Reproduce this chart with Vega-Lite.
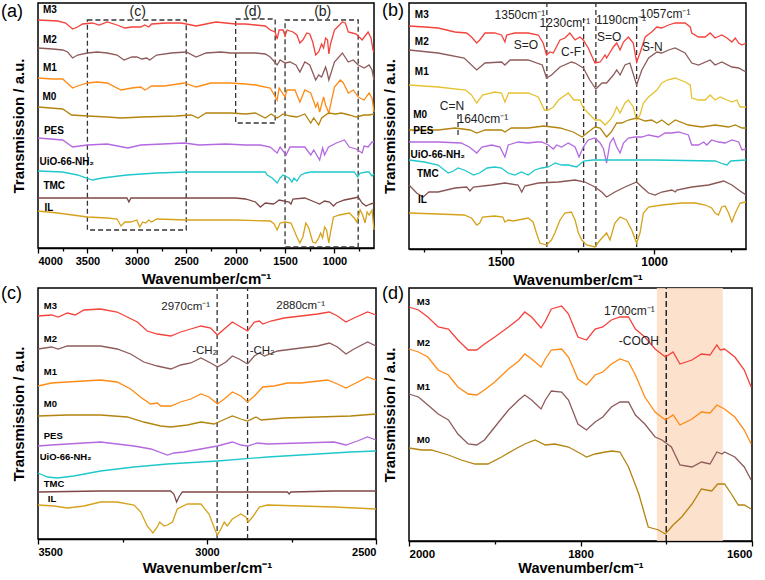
{
"$schema":"https://vega.github.io/schema/vega-lite/v6.json",
"padding":{"left":0,"top":1,"right":5,"bottom":0},
"background":"white",
"config":{"font":"Liberation Sans","view":{"stroke":"#000","strokeWidth":1.5},
"axis":{"labelFontWeight":"bold","titleFontWeight":"bold","labelColor":"#000","titleColor":"#000","domainColor":"#000","tickColor":"#000","grid":false,"labelOverlap":false},
"title":{"fontWeight":"normal","fontSize":18,"color":"#000"}},
"columns":2,
"spacing":{"row":39,"column":33},
"bounds":"flush",
"resolve":{"scale":{"color":"independent","x":"independent","y":"independent"}},
"datasets":{
"A":[
{"s":"M3","w":4000,"t":228},{"s":"M3","w":3800,"t":227},{"s":"M3","w":3720,"t":225},{"s":"M3","w":3650,"t":219},{"s":"M3","w":3600,"t":221},{"s":"M3","w":3550,"t":224},{"s":"M3","w":3450,"t":225},{"s":"M3","w":3380,"t":223},{"s":"M3","w":3300,"t":226},{"s":"M3","w":3200,"t":223},{"s":"M3","w":3120,"t":220},{"s":"M3","w":3050,"t":221},{"s":"M3","w":2960,"t":221},{"s":"M3","w":2920,"t":223},{"s":"M3","w":2880,"t":221},{"s":"M3","w":2850,"t":224},{"s":"M3","w":2700,"t":225},{"s":"M3","w":2550,"t":225},{"s":"M3","w":2400,"t":222},{"s":"M3","w":2350,"t":223},{"s":"M3","w":2200,"t":226},{"s":"M3","w":2100,"t":225},{"s":"M3","w":2000,"t":224},{"s":"M3","w":1900,"t":224},{"s":"M3","w":1800,"t":223},{"s":"M3","w":1700,"t":222},{"s":"M3","w":1650,"t":218},{"s":"M3","w":1600,"t":216},{"s":"M3","w":1580,"t":209},{"s":"M3","w":1560,"t":218},{"s":"M3","w":1520,"t":218},{"s":"M3","w":1500,"t":212},{"s":"M3","w":1480,"t":218},{"s":"M3","w":1420,"t":216},{"s":"M3","w":1380,"t":213},{"s":"M3","w":1350,"t":205},{"s":"M3","w":1320,"t":208},{"s":"M3","w":1280,"t":215},{"s":"M3","w":1250,"t":214},{"s":"M3","w":1220,"t":206},{"s":"M3","w":1190,"t":193},{"s":"M3","w":1160,"t":196},{"s":"M3","w":1130,"t":204},{"s":"M3","w":1110,"t":200},{"s":"M3","w":1090,"t":210},{"s":"M3","w":1070,"t":208},{"s":"M3","w":1057,"t":194},{"s":"M3","w":1040,"t":204},{"s":"M3","w":1000,"t":218},{"s":"M3","w":960,"t":222},{"s":"M3","w":920,"t":226},{"s":"M3","w":890,"t":225},{"s":"M3","w":860,"t":216},{"s":"M3","w":820,"t":215},{"s":"M3","w":780,"t":214},{"s":"M3","w":750,"t":211},{"s":"M3","w":720,"t":208},{"s":"M3","w":690,"t":212},{"s":"M3","w":660,"t":216},{"s":"M3","w":630,"t":210},{"s":"M3","w":610,"t":198},{"s":"M3","w":600,"t":196},
{"s":"M2","w":4000,"t":200},{"s":"M2","w":3850,"t":199},{"s":"M2","w":3750,"t":198},{"s":"M2","w":3700,"t":196},{"s":"M2","w":3650,"t":190},{"s":"M2","w":3600,"t":193},{"s":"M2","w":3500,"t":195},{"s":"M2","w":3400,"t":196},{"s":"M2","w":3300,"t":195},{"s":"M2","w":3200,"t":193},{"s":"M2","w":3130,"t":188},{"s":"M2","w":3050,"t":191},{"s":"M2","w":3000,"t":191},{"s":"M2","w":2950,"t":189},{"s":"M2","w":2900,"t":190},{"s":"M2","w":2870,"t":188},{"s":"M2","w":2800,"t":193},{"s":"M2","w":2650,"t":195},{"s":"M2","w":2500,"t":196},{"s":"M2","w":2400,"t":191},{"s":"M2","w":2300,"t":195},{"s":"M2","w":2150,"t":196},{"s":"M2","w":2050,"t":195},{"s":"M2","w":1900,"t":195},{"s":"M2","w":1800,"t":195},{"s":"M2","w":1700,"t":194},{"s":"M2","w":1650,"t":191},{"s":"M2","w":1580,"t":183},{"s":"M2","w":1550,"t":188},{"s":"M2","w":1500,"t":185},{"s":"M2","w":1450,"t":186},{"s":"M2","w":1390,"t":183},{"s":"M2","w":1350,"t":176},{"s":"M2","w":1300,"t":186},{"s":"M2","w":1250,"t":183},{"s":"M2","w":1190,"t":168},{"s":"M2","w":1160,"t":173},{"s":"M2","w":1130,"t":171},{"s":"M2","w":1090,"t":181},{"s":"M2","w":1075,"t":176},{"s":"M2","w":1057,"t":168},{"s":"M2","w":1000,"t":186},{"s":"M2","w":920,"t":195},{"s":"M2","w":860,"t":186},{"s":"M2","w":810,"t":188},{"s":"M2","w":760,"t":183},{"s":"M2","w":700,"t":180},{"s":"M2","w":650,"t":183},{"s":"M2","w":620,"t":178},{"s":"M2","w":600,"t":168},
{"s":"M1","w":4000,"t":170},{"s":"M1","w":3850,"t":169},{"s":"M1","w":3750,"t":169},{"s":"M1","w":3650,"t":160},{"s":"M1","w":3600,"t":162},{"s":"M1","w":3500,"t":165},{"s":"M1","w":3400,"t":166},{"s":"M1","w":3300,"t":165},{"s":"M1","w":3160,"t":158},{"s":"M1","w":3050,"t":160},{"s":"M1","w":2960,"t":161},{"s":"M1","w":2920,"t":158},{"s":"M1","w":2900,"t":159},{"s":"M1","w":2850,"t":162},{"s":"M1","w":2720,"t":162},{"s":"M1","w":2520,"t":165},{"s":"M1","w":2400,"t":161},{"s":"M1","w":2250,"t":165},{"s":"M1","w":2050,"t":165},{"s":"M1","w":1900,"t":164},{"s":"M1","w":1800,"t":163},{"s":"M1","w":1650,"t":160},{"s":"M1","w":1580,"t":148},{"s":"M1","w":1560,"t":160},{"s":"M1","w":1500,"t":151},{"s":"M1","w":1480,"t":158},{"s":"M1","w":1400,"t":158},{"s":"M1","w":1350,"t":146},{"s":"M1","w":1300,"t":158},{"s":"M1","w":1240,"t":155},{"s":"M1","w":1190,"t":141},{"s":"M1","w":1170,"t":145},{"s":"M1","w":1150,"t":136},{"s":"M1","w":1110,"t":151},{"s":"M1","w":1090,"t":143},{"s":"M1","w":1057,"t":135},{"s":"M1","w":1000,"t":161},{"s":"M1","w":940,"t":168},{"s":"M1","w":910,"t":165},{"s":"M1","w":860,"t":155},{"s":"M1","w":810,"t":158},{"s":"M1","w":760,"t":151},{"s":"M1","w":700,"t":148},{"s":"M1","w":650,"t":155},{"s":"M1","w":620,"t":150},{"s":"M1","w":600,"t":136},
{"s":"M0","w":4000,"t":141},{"s":"M0","w":3750,"t":139},{"s":"M0","w":3660,"t":133},{"s":"M0","w":3500,"t":132},{"s":"M0","w":3300,"t":131},{"s":"M0","w":3160,"t":130},{"s":"M0","w":2950,"t":131},{"s":"M0","w":2600,"t":132},{"s":"M0","w":2450,"t":133},{"s":"M0","w":2380,"t":130},{"s":"M0","w":2300,"t":135},{"s":"M0","w":2050,"t":135},{"s":"M0","w":1900,"t":134},{"s":"M0","w":1800,"t":135},{"s":"M0","w":1700,"t":130},{"s":"M0","w":1640,"t":134},{"s":"M0","w":1580,"t":130},{"s":"M0","w":1520,"t":134},{"s":"M0","w":1450,"t":132},{"s":"M0","w":1380,"t":131},{"s":"M0","w":1300,"t":134},{"s":"M0","w":1240,"t":125},{"s":"M0","w":1210,"t":130},{"s":"M0","w":1160,"t":123},{"s":"M0","w":1130,"t":130},{"s":"M0","w":1060,"t":135},{"s":"M0","w":990,"t":134},{"s":"M0","w":930,"t":135},{"s":"M0","w":850,"t":133},{"s":"M0","w":780,"t":131},{"s":"M0","w":700,"t":133},{"s":"M0","w":650,"t":133},{"s":"M0","w":600,"t":134},
{"s":"PES","w":4000,"t":110},{"s":"PES","w":3750,"t":108},{"s":"PES","w":3650,"t":101},{"s":"PES","w":3500,"t":103},{"s":"PES","w":3300,"t":104},{"s":"PES","w":3090,"t":100},{"s":"PES","w":2960,"t":103},{"s":"PES","w":2520,"t":105},{"s":"PES","w":2370,"t":103},{"s":"PES","w":2100,"t":104},{"s":"PES","w":1900,"t":103},{"s":"PES","w":1750,"t":103},{"s":"PES","w":1650,"t":101},{"s":"PES","w":1580,"t":95},{"s":"PES","w":1550,"t":101},{"s":"PES","w":1490,"t":93},{"s":"PES","w":1450,"t":101},{"s":"PES","w":1300,"t":101},{"s":"PES","w":1240,"t":93},{"s":"PES","w":1210,"t":98},{"s":"PES","w":1150,"t":88},{"s":"PES","w":1120,"t":100},{"s":"PES","w":1100,"t":93},{"s":"PES","w":1060,"t":101},{"s":"PES","w":980,"t":105},{"s":"PES","w":900,"t":108},{"s":"PES","w":850,"t":101},{"s":"PES","w":780,"t":99},{"s":"PES","w":720,"t":95},{"s":"PES","w":700,"t":102},{"s":"PES","w":660,"t":101},{"s":"PES","w":620,"t":106},{"s":"PES","w":600,"t":106},
{"s":"UiO","w":4000,"t":77},{"s":"UiO","w":3750,"t":76},{"s":"UiO","w":3600,"t":73},{"s":"UiO","w":3450,"t":68},{"s":"UiO","w":3350,"t":70},{"s":"UiO","w":3100,"t":73},{"s":"UiO","w":2800,"t":75},{"s":"UiO","w":2500,"t":76},{"s":"UiO","w":2000,"t":76},{"s":"UiO","w":1700,"t":76},{"s":"UiO","w":1680,"t":73},{"s":"UiO","w":1630,"t":70},{"s":"UiO","w":1580,"t":65},{"s":"UiO","w":1550,"t":70},{"s":"UiO","w":1520,"t":73},{"s":"UiO","w":1460,"t":70},{"s":"UiO","w":1430,"t":66},{"s":"UiO","w":1410,"t":70},{"s":"UiO","w":1380,"t":67},{"s":"UiO","w":1340,"t":73},{"s":"UiO","w":1290,"t":75},{"s":"UiO","w":1240,"t":76},{"s":"UiO","w":800,"t":76},{"s":"UiO","w":765,"t":71},{"s":"UiO","w":740,"t":75},{"s":"UiO","w":680,"t":76},{"s":"UiO","w":650,"t":76},{"s":"UiO","w":620,"t":72},{"s":"UiO","w":600,"t":74},
{"s":"TMC","w":4000,"t":50},{"s":"TMC","w":3500,"t":50},{"s":"TMC","w":3100,"t":50},{"s":"TMC","w":3080,"t":46},{"s":"TMC","w":3060,"t":50},{"s":"TMC","w":2000,"t":50},{"s":"TMC","w":1900,"t":49},{"s":"TMC","w":1800,"t":46},{"s":"TMC","w":1750,"t":41},{"s":"TMC","w":1700,"t":45},{"s":"TMC","w":1620,"t":44},{"s":"TMC","w":1600,"t":45},{"s":"TMC","w":1560,"t":48},{"s":"TMC","w":1460,"t":46},{"s":"TMC","w":1440,"t":44},{"s":"TMC","w":1420,"t":49},{"s":"TMC","w":1300,"t":50},{"s":"TMC","w":1200,"t":46},{"s":"TMC","w":1150,"t":44},{"s":"TMC","w":1100,"t":47},{"s":"TMC","w":1050,"t":46},{"s":"TMC","w":1010,"t":42},{"s":"TMC","w":980,"t":45},{"s":"TMC","w":900,"t":48},{"s":"TMC","w":800,"t":50},{"s":"TMC","w":760,"t":51},{"s":"TMC","w":720,"t":45},{"s":"TMC","w":680,"t":42},{"s":"TMC","w":640,"t":44},{"s":"TMC","w":600,"t":45},
{"s":"IL","w":4000,"t":37},{"s":"IL","w":3800,"t":35},{"s":"IL","w":3500,"t":31},{"s":"IL","w":3300,"t":30},{"s":"IL","w":3200,"t":29},{"s":"IL","w":3160,"t":22},{"s":"IL","w":3120,"t":26},{"s":"IL","w":3060,"t":26},{"s":"IL","w":3000,"t":28},{"s":"IL","w":2970,"t":21},{"s":"IL","w":2940,"t":26},{"s":"IL","w":2910,"t":25},{"s":"IL","w":2880,"t":28},{"s":"IL","w":2850,"t":26},{"s":"IL","w":2800,"t":29},{"s":"IL","w":2500,"t":28},{"s":"IL","w":2000,"t":28},{"s":"IL","w":1650,"t":27},{"s":"IL","w":1610,"t":24},{"s":"IL","w":1580,"t":18},{"s":"IL","w":1550,"t":25},{"s":"IL","w":1500,"t":26},{"s":"IL","w":1440,"t":25},{"s":"IL","w":1380,"t":11},{"s":"IL","w":1350,"t":5},{"s":"IL","w":1320,"t":11},{"s":"IL","w":1290,"t":25},{"s":"IL","w":1260,"t":20},{"s":"IL","w":1220,"t":6},{"s":"IL","w":1190,"t":5},{"s":"IL","w":1160,"t":10},{"s":"IL","w":1140,"t":15},{"s":"IL","w":1120,"t":10},{"s":"IL","w":1100,"t":21},{"s":"IL","w":1080,"t":18},{"s":"IL","w":1057,"t":5},{"s":"IL","w":1040,"t":16},{"s":"IL","w":1010,"t":31},{"s":"IL","w":950,"t":33},{"s":"IL","w":850,"t":35},{"s":"IL","w":800,"t":30},{"s":"IL","w":775,"t":26},{"s":"IL","w":760,"t":31},{"s":"IL","w":740,"t":38},{"s":"IL","w":715,"t":33},{"s":"IL","w":690,"t":25},{"s":"IL","w":670,"t":36},{"s":"IL","w":650,"t":33},{"s":"IL","w":620,"t":38},{"s":"IL","w":600,"t":18}
],
"B":[
{"s":"M3","w":1800,"t":223},{"s":"M3","w":1748,"t":222},{"s":"M3","w":1705,"t":221},{"s":"M3","w":1650,"t":217},{"s":"M3","w":1612,"t":216},{"s":"M3","w":1596,"t":212},{"s":"M3","w":1579,"t":206},{"s":"M3","w":1569,"t":209},{"s":"M3","w":1552,"t":216},{"s":"M3","w":1520,"t":216},{"s":"M3","w":1498,"t":214},{"s":"M3","w":1487,"t":207},{"s":"M3","w":1481,"t":214},{"s":"M3","w":1454,"t":216},{"s":"M3","w":1411,"t":216},{"s":"M3","w":1378,"t":214},{"s":"M3","w":1362,"t":206},{"s":"M3","w":1351,"t":194},{"s":"M3","w":1340,"t":197},{"s":"M3","w":1329,"t":196},{"s":"M3","w":1307,"t":209},{"s":"M3","w":1291,"t":211},{"s":"M3","w":1275,"t":216},{"s":"M3","w":1258,"t":209},{"s":"M3","w":1242,"t":212},{"s":"M3","w":1231,"t":209},{"s":"M3","w":1215,"t":201},{"s":"M3","w":1193,"t":186},{"s":"M3","w":1176,"t":187},{"s":"M3","w":1160,"t":194},{"s":"M3","w":1155,"t":191},{"s":"M3","w":1133,"t":202},{"s":"M3","w":1122,"t":206},{"s":"M3","w":1111,"t":199},{"s":"M3","w":1100,"t":207},{"s":"M3","w":1084,"t":212},{"s":"M3","w":1068,"t":206},{"s":"M3","w":1057,"t":187},{"s":"M3","w":1046,"t":196},{"s":"M3","w":1029,"t":212},{"s":"M3","w":1008,"t":217},{"s":"M3","w":991,"t":222},{"s":"M3","w":975,"t":221},{"s":"M3","w":953,"t":224},{"s":"M3","w":931,"t":226},{"s":"M3","w":899,"t":226},{"s":"M3","w":882,"t":222},{"s":"M3","w":877,"t":216},{"s":"M3","w":855,"t":212},{"s":"M3","w":833,"t":212},{"s":"M3","w":817,"t":216},{"s":"M3","w":801,"t":211},{"s":"M3","w":779,"t":214},{"s":"M3","w":762,"t":211},{"s":"M3","w":746,"t":207},{"s":"M3","w":735,"t":211},{"s":"M3","w":724,"t":206},{"s":"M3","w":713,"t":204},{"s":"M3","w":700,"t":206},
{"s":"M2","w":1800,"t":199},{"s":"M2","w":1705,"t":196},{"s":"M2","w":1620,"t":191},{"s":"M2","w":1579,"t":179},{"s":"M2","w":1552,"t":186},{"s":"M2","w":1498,"t":187},{"s":"M2","w":1487,"t":184},{"s":"M2","w":1470,"t":189},{"s":"M2","w":1411,"t":189},{"s":"M2","w":1365,"t":184},{"s":"M2","w":1351,"t":171},{"s":"M2","w":1335,"t":174},{"s":"M2","w":1307,"t":182},{"s":"M2","w":1270,"t":187},{"s":"M2","w":1258,"t":186},{"s":"M2","w":1231,"t":181},{"s":"M2","w":1210,"t":169},{"s":"M2","w":1190,"t":160},{"s":"M2","w":1170,"t":166},{"s":"M2","w":1155,"t":166},{"s":"M2","w":1133,"t":174},{"s":"M2","w":1122,"t":179},{"s":"M2","w":1111,"t":174},{"s":"M2","w":1095,"t":184},{"s":"M2","w":1079,"t":186},{"s":"M2","w":1057,"t":164},{"s":"M2","w":1040,"t":179},{"s":"M2","w":1018,"t":191},{"s":"M2","w":991,"t":197},{"s":"M2","w":975,"t":196},{"s":"M2","w":953,"t":199},{"s":"M2","w":931,"t":201},{"s":"M2","w":899,"t":196},{"s":"M2","w":877,"t":186},{"s":"M2","w":855,"t":184},{"s":"M2","w":817,"t":189},{"s":"M2","w":801,"t":184},{"s":"M2","w":779,"t":187},{"s":"M2","w":746,"t":182},{"s":"M2","w":724,"t":181},{"s":"M2","w":700,"t":177},
{"s":"M1","w":1800,"t":164},{"s":"M1","w":1705,"t":162},{"s":"M1","w":1615,"t":159},{"s":"M1","w":1596,"t":154},{"s":"M1","w":1579,"t":146},{"s":"M1","w":1560,"t":154},{"s":"M1","w":1520,"t":157},{"s":"M1","w":1498,"t":156},{"s":"M1","w":1487,"t":147},{"s":"M1","w":1475,"t":156},{"s":"M1","w":1411,"t":156},{"s":"M1","w":1378,"t":152},{"s":"M1","w":1358,"t":139},{"s":"M1","w":1345,"t":139},{"s":"M1","w":1329,"t":142},{"s":"M1","w":1312,"t":149},{"s":"M1","w":1280,"t":156},{"s":"M1","w":1262,"t":149},{"s":"M1","w":1242,"t":149},{"s":"M1","w":1231,"t":141},{"s":"M1","w":1215,"t":136},{"s":"M1","w":1193,"t":129},{"s":"M1","w":1176,"t":129},{"s":"M1","w":1160,"t":124},{"s":"M1","w":1144,"t":129},{"s":"M1","w":1133,"t":134},{"s":"M1","w":1122,"t":142},{"s":"M1","w":1111,"t":136},{"s":"M1","w":1095,"t":146},{"s":"M1","w":1084,"t":149},{"s":"M1","w":1068,"t":142},{"s":"M1","w":1057,"t":129},{"s":"M1","w":1046,"t":134},{"s":"M1","w":1035,"t":146},{"s":"M1","w":1018,"t":152},{"s":"M1","w":991,"t":159},{"s":"M1","w":975,"t":166},{"s":"M1","w":957,"t":169},{"s":"M1","w":931,"t":171},{"s":"M1","w":899,"t":167},{"s":"M1","w":882,"t":164},{"s":"M1","w":877,"t":151},{"s":"M1","w":855,"t":149},{"s":"M1","w":833,"t":149},{"s":"M1","w":817,"t":154},{"s":"M1","w":801,"t":149},{"s":"M1","w":784,"t":152},{"s":"M1","w":762,"t":149},{"s":"M1","w":746,"t":147},{"s":"M1","w":730,"t":149},{"s":"M1","w":719,"t":142},{"s":"M1","w":700,"t":142},
{"s":"M0","w":1800,"t":119},{"s":"M0","w":1705,"t":119},{"s":"M0","w":1650,"t":121},{"s":"M0","w":1600,"t":119},{"s":"M0","w":1579,"t":116},{"s":"M0","w":1552,"t":119},{"s":"M0","w":1498,"t":119},{"s":"M0","w":1487,"t":117},{"s":"M0","w":1466,"t":121},{"s":"M0","w":1411,"t":121},{"s":"M0","w":1360,"t":123},{"s":"M0","w":1307,"t":121},{"s":"M0","w":1264,"t":117},{"s":"M0","w":1235,"t":112},{"s":"M0","w":1215,"t":117},{"s":"M0","w":1193,"t":122},{"s":"M0","w":1176,"t":121},{"s":"M0","w":1155,"t":112},{"s":"M0","w":1140,"t":117},{"s":"M0","w":1122,"t":126},{"s":"M0","w":1106,"t":126},{"s":"M0","w":1084,"t":129},{"s":"M0","w":1057,"t":131},{"s":"M0","w":1029,"t":128},{"s":"M0","w":1008,"t":129},{"s":"M0","w":991,"t":126},{"s":"M0","w":975,"t":129},{"s":"M0","w":953,"t":124},{"s":"M0","w":931,"t":129},{"s":"M0","w":888,"t":124},{"s":"M0","w":844,"t":122},{"s":"M0","w":801,"t":124},{"s":"M0","w":757,"t":122},{"s":"M0","w":735,"t":124},{"s":"M0","w":713,"t":121},{"s":"M0","w":700,"t":121},
{"s":"PES","w":1800,"t":107},{"s":"PES","w":1705,"t":107},{"s":"PES","w":1630,"t":106},{"s":"PES","w":1603,"t":102},{"s":"PES","w":1579,"t":96},{"s":"PES","w":1562,"t":102},{"s":"PES","w":1530,"t":104},{"s":"PES","w":1503,"t":102},{"s":"PES","w":1487,"t":92},{"s":"PES","w":1476,"t":104},{"s":"PES","w":1444,"t":107},{"s":"PES","w":1411,"t":106},{"s":"PES","w":1384,"t":107},{"s":"PES","w":1367,"t":107},{"s":"PES","w":1345,"t":104},{"s":"PES","w":1329,"t":100},{"s":"PES","w":1318,"t":104},{"s":"PES","w":1302,"t":102},{"s":"PES","w":1280,"t":106},{"s":"PES","w":1258,"t":102},{"s":"PES","w":1245,"t":92},{"s":"PES","w":1231,"t":102},{"s":"PES","w":1215,"t":109},{"s":"PES","w":1193,"t":111},{"s":"PES","w":1176,"t":106},{"s":"PES","w":1165,"t":100},{"s":"PES","w":1155,"t":86},{"s":"PES","w":1144,"t":106},{"s":"PES","w":1133,"t":111},{"s":"PES","w":1122,"t":102},{"s":"PES","w":1111,"t":96},{"s":"PES","w":1100,"t":106},{"s":"PES","w":1084,"t":111},{"s":"PES","w":1062,"t":112},{"s":"PES","w":1040,"t":112},{"s":"PES","w":1018,"t":114},{"s":"PES","w":986,"t":112},{"s":"PES","w":964,"t":116},{"s":"PES","w":942,"t":116},{"s":"PES","w":920,"t":117},{"s":"PES","w":888,"t":114},{"s":"PES","w":877,"t":104},{"s":"PES","w":855,"t":104},{"s":"PES","w":838,"t":107},{"s":"PES","w":828,"t":104},{"s":"PES","w":812,"t":109},{"s":"PES","w":790,"t":107},{"s":"PES","w":768,"t":106},{"s":"PES","w":746,"t":109},{"s":"PES","w":724,"t":107},{"s":"PES","w":713,"t":99},{"s":"PES","w":700,"t":100},
{"s":"UiO","w":1800,"t":89},{"s":"UiO","w":1750,"t":87},{"s":"UiO","w":1705,"t":84},{"s":"UiO","w":1672,"t":76},{"s":"UiO","w":1655,"t":78},{"s":"UiO","w":1640,"t":81},{"s":"UiO","w":1620,"t":79},{"s":"UiO","w":1589,"t":74},{"s":"UiO","w":1570,"t":76},{"s":"UiO","w":1545,"t":81},{"s":"UiO","w":1520,"t":82},{"s":"UiO","w":1498,"t":81},{"s":"UiO","w":1477,"t":76},{"s":"UiO","w":1455,"t":74},{"s":"UiO","w":1433,"t":77},{"s":"UiO","w":1411,"t":74},{"s":"UiO","w":1389,"t":79},{"s":"UiO","w":1367,"t":81},{"s":"UiO","w":1345,"t":82},{"s":"UiO","w":1323,"t":86},{"s":"UiO","w":1302,"t":84},{"s":"UiO","w":1280,"t":84},{"s":"UiO","w":1253,"t":82},{"s":"UiO","w":1230,"t":88},{"s":"UiO","w":1200,"t":89},{"s":"UiO","w":1000,"t":89},{"s":"UiO","w":800,"t":88},{"s":"UiO","w":775,"t":85},{"s":"UiO","w":762,"t":84},{"s":"UiO","w":750,"t":88},{"s":"UiO","w":700,"t":89},
{"s":"TMC","w":1800,"t":64},{"s":"TMC","w":1775,"t":56},{"s":"TMC","w":1754,"t":52},{"s":"TMC","w":1735,"t":57},{"s":"TMC","w":1705,"t":57},{"s":"TMC","w":1650,"t":61},{"s":"TMC","w":1612,"t":62},{"s":"TMC","w":1601,"t":58},{"s":"TMC","w":1590,"t":62},{"s":"TMC","w":1530,"t":64},{"s":"TMC","w":1487,"t":66},{"s":"TMC","w":1444,"t":64},{"s":"TMC","w":1432,"t":57},{"s":"TMC","w":1422,"t":63},{"s":"TMC","w":1378,"t":66},{"s":"TMC","w":1313,"t":67},{"s":"TMC","w":1258,"t":69},{"s":"TMC","w":1226,"t":67},{"s":"TMC","w":1193,"t":62},{"s":"TMC","w":1171,"t":57},{"s":"TMC","w":1155,"t":52},{"s":"TMC","w":1128,"t":57},{"s":"TMC","w":1095,"t":62},{"s":"TMC","w":1057,"t":67},{"s":"TMC","w":1040,"t":62},{"s":"TMC","w":1018,"t":56},{"s":"TMC","w":997,"t":54},{"s":"TMC","w":975,"t":57},{"s":"TMC","w":942,"t":59},{"s":"TMC","w":931,"t":57},{"s":"TMC","w":926,"t":59},{"s":"TMC","w":877,"t":62},{"s":"TMC","w":822,"t":64},{"s":"TMC","w":773,"t":68},{"s":"TMC","w":746,"t":64},{"s":"TMC","w":724,"t":59},{"s":"TMC","w":700,"t":54},
{"s":"IL","w":1800,"t":36},{"s":"IL","w":1705,"t":35},{"s":"IL","w":1620,"t":34},{"s":"IL","w":1596,"t":31},{"s":"IL","w":1579,"t":24},{"s":"IL","w":1569,"t":26},{"s":"IL","w":1560,"t":32},{"s":"IL","w":1520,"t":33},{"s":"IL","w":1494,"t":32},{"s":"IL","w":1487,"t":27},{"s":"IL","w":1476,"t":29},{"s":"IL","w":1460,"t":28},{"s":"IL","w":1444,"t":29},{"s":"IL","w":1411,"t":31},{"s":"IL","w":1395,"t":27},{"s":"IL","w":1384,"t":16},{"s":"IL","w":1373,"t":6},{"s":"IL","w":1351,"t":4},{"s":"IL","w":1335,"t":9},{"s":"IL","w":1324,"t":16},{"s":"IL","w":1307,"t":29},{"s":"IL","w":1291,"t":36},{"s":"IL","w":1270,"t":37},{"s":"IL","w":1258,"t":29},{"s":"IL","w":1247,"t":16},{"s":"IL","w":1236,"t":9},{"s":"IL","w":1220,"t":4},{"s":"IL","w":1193,"t":2},{"s":"IL","w":1176,"t":9},{"s":"IL","w":1155,"t":16},{"s":"IL","w":1144,"t":9},{"s":"IL","w":1128,"t":26},{"s":"IL","w":1111,"t":32},{"s":"IL","w":1090,"t":29},{"s":"IL","w":1073,"t":19},{"s":"IL","w":1057,"t":6},{"s":"IL","w":1046,"t":16},{"s":"IL","w":1035,"t":36},{"s":"IL","w":1018,"t":42},{"s":"IL","w":975,"t":44},{"s":"IL","w":910,"t":46},{"s":"IL","w":866,"t":46},{"s":"IL","w":833,"t":44},{"s":"IL","w":812,"t":41},{"s":"IL","w":801,"t":36},{"s":"IL","w":790,"t":34},{"s":"IL","w":779,"t":42},{"s":"IL","w":768,"t":43},{"s":"IL","w":757,"t":36},{"s":"IL","w":746,"t":27},{"s":"IL","w":735,"t":36},{"s":"IL","w":719,"t":46},{"s":"IL","w":700,"t":47}
],
"C":[
{"s":"M3","w":3500,"t":223},{"s":"M3","w":3460,"t":224},{"s":"M3","w":3440,"t":222},{"s":"M3","w":3413,"t":226},{"s":"M3","w":3390,"t":224},{"s":"M3","w":3364,"t":229},{"s":"M3","w":3315,"t":230},{"s":"M3","w":3266,"t":227},{"s":"M3","w":3236,"t":222},{"s":"M3","w":3206,"t":217},{"s":"M3","w":3177,"t":208},{"s":"M3","w":3147,"t":205},{"s":"M3","w":3107,"t":203},{"s":"M3","w":3078,"t":207},{"s":"M3","w":3048,"t":210},{"s":"M3","w":3018,"t":213},{"s":"M3","w":2989,"t":211},{"s":"M3","w":2969,"t":204},{"s":"M3","w":2949,"t":210},{"s":"M3","w":2925,"t":217},{"s":"M3","w":2905,"t":213},{"s":"M3","w":2880,"t":208},{"s":"M3","w":2860,"t":217},{"s":"M3","w":2845,"t":218},{"s":"M3","w":2835,"t":215},{"s":"M3","w":2811,"t":218},{"s":"M3","w":2772,"t":221},{"s":"M3","w":2722,"t":223},{"s":"M3","w":2673,"t":225},{"s":"M3","w":2638,"t":227},{"s":"M3","w":2614,"t":223},{"s":"M3","w":2589,"t":217},{"s":"M3","w":2565,"t":221},{"s":"M3","w":2525,"t":227},{"s":"M3","w":2500,"t":224},
{"s":"M2","w":3500,"t":190},{"s":"M2","w":3460,"t":192},{"s":"M2","w":3440,"t":190},{"s":"M2","w":3413,"t":193},{"s":"M2","w":3364,"t":193},{"s":"M2","w":3315,"t":193},{"s":"M2","w":3266,"t":190},{"s":"M2","w":3226,"t":185},{"s":"M2","w":3187,"t":177},{"s":"M2","w":3147,"t":173},{"s":"M2","w":3107,"t":170},{"s":"M2","w":3078,"t":174},{"s":"M2","w":3048,"t":176},{"s":"M2","w":3018,"t":181},{"s":"M2","w":2989,"t":176},{"s":"M2","w":2969,"t":172},{"s":"M2","w":2944,"t":177},{"s":"M2","w":2925,"t":183},{"s":"M2","w":2905,"t":180},{"s":"M2","w":2880,"t":175},{"s":"M2","w":2860,"t":183},{"s":"M2","w":2845,"t":186},{"s":"M2","w":2830,"t":183},{"s":"M2","w":2791,"t":188},{"s":"M2","w":2722,"t":191},{"s":"M2","w":2673,"t":193},{"s":"M2","w":2638,"t":196},{"s":"M2","w":2614,"t":192},{"s":"M2","w":2589,"t":185},{"s":"M2","w":2565,"t":190},{"s":"M2","w":2525,"t":197},{"s":"M2","w":2500,"t":193},
{"s":"M1","w":3500,"t":153},{"s":"M1","w":3460,"t":156},{"s":"M1","w":3413,"t":157},{"s":"M1","w":3364,"t":158},{"s":"M1","w":3315,"t":159},{"s":"M1","w":3266,"t":157},{"s":"M1","w":3226,"t":150},{"s":"M1","w":3197,"t":142},{"s":"M1","w":3167,"t":135},{"s":"M1","w":3147,"t":136},{"s":"M1","w":3137,"t":133},{"s":"M1","w":3107,"t":133},{"s":"M1","w":3078,"t":137},{"s":"M1","w":3048,"t":140},{"s":"M1","w":3018,"t":145},{"s":"M1","w":2994,"t":142},{"s":"M1","w":2969,"t":135},{"s":"M1","w":2949,"t":140},{"s":"M1","w":2925,"t":147},{"s":"M1","w":2900,"t":143},{"s":"M1","w":2880,"t":137},{"s":"M1","w":2860,"t":143},{"s":"M1","w":2835,"t":152},{"s":"M1","w":2801,"t":153},{"s":"M1","w":2762,"t":156},{"s":"M1","w":2722,"t":156},{"s":"M1","w":2643,"t":159},{"s":"M1","w":2614,"t":155},{"s":"M1","w":2589,"t":151},{"s":"M1","w":2565,"t":155},{"s":"M1","w":2525,"t":162},{"s":"M1","w":2500,"t":159},
{"s":"M0","w":3500,"t":123},{"s":"M0","w":3413,"t":124},{"s":"M0","w":3315,"t":124},{"s":"M0","w":3236,"t":122},{"s":"M0","w":3187,"t":117},{"s":"M0","w":3137,"t":113},{"s":"M0","w":3107,"t":112},{"s":"M0","w":3058,"t":114},{"s":"M0","w":3018,"t":117},{"s":"M0","w":2979,"t":115},{"s":"M0","w":2959,"t":118},{"s":"M0","w":2925,"t":123},{"s":"M0","w":2900,"t":120},{"s":"M0","w":2880,"t":118},{"s":"M0","w":2855,"t":122},{"s":"M0","w":2840,"t":119},{"s":"M0","w":2771,"t":121},{"s":"M0","w":2673,"t":122},{"s":"M0","w":2575,"t":123},{"s":"M0","w":2500,"t":125},
{"s":"PES","w":3500,"t":93},{"s":"PES","w":3460,"t":94},{"s":"PES","w":3413,"t":95},{"s":"PES","w":3364,"t":96},{"s":"PES","w":3315,"t":97},{"s":"PES","w":3266,"t":95},{"s":"PES","w":3216,"t":93},{"s":"PES","w":3166,"t":90},{"s":"PES","w":3117,"t":84},{"s":"PES","w":3098,"t":86},{"s":"PES","w":3068,"t":87},{"s":"PES","w":3018,"t":90},{"s":"PES","w":2969,"t":93},{"s":"PES","w":2925,"t":97},{"s":"PES","w":2900,"t":94},{"s":"PES","w":2880,"t":93},{"s":"PES","w":2851,"t":96},{"s":"PES","w":2821,"t":95},{"s":"PES","w":2722,"t":96},{"s":"PES","w":2624,"t":97},{"s":"PES","w":2589,"t":94},{"s":"PES","w":2555,"t":98},{"s":"PES","w":2525,"t":102},{"s":"PES","w":2500,"t":99},
{"s":"UiO","w":3500,"t":66},{"s":"UiO","w":3472,"t":62},{"s":"UiO","w":3443,"t":61},{"s":"UiO","w":3394,"t":63},{"s":"UiO","w":3315,"t":68},{"s":"UiO","w":3216,"t":72},{"s":"UiO","w":3117,"t":75},{"s":"UiO","w":2969,"t":78},{"s":"UiO","w":2821,"t":82},{"s":"UiO","w":2673,"t":85},{"s":"UiO","w":2575,"t":87},{"s":"UiO","w":2500,"t":88},
{"s":"TMC","w":3500,"t":47},{"s":"TMC","w":3315,"t":48},{"s":"TMC","w":3108,"t":48},{"s":"TMC","w":3098,"t":45},{"s":"TMC","w":3090,"t":37},{"s":"TMC","w":3083,"t":42},{"s":"TMC","w":3073,"t":47},{"s":"TMC","w":3018,"t":47},{"s":"TMC","w":2920,"t":47},{"s":"TMC","w":2762,"t":47},{"s":"TMC","w":2757,"t":45},{"s":"TMC","w":2752,"t":47},{"s":"TMC","w":2624,"t":48},{"s":"TMC","w":2500,"t":48},
{"s":"IL","w":3500,"t":34},{"s":"IL","w":3453,"t":33},{"s":"IL","w":3413,"t":31},{"s":"IL","w":3364,"t":33},{"s":"IL","w":3315,"t":37},{"s":"IL","w":3266,"t":37},{"s":"IL","w":3216,"t":34},{"s":"IL","w":3196,"t":27},{"s":"IL","w":3177,"t":13},{"s":"IL","w":3160,"t":6},{"s":"IL","w":3147,"t":12},{"s":"IL","w":3140,"t":17},{"s":"IL","w":3127,"t":13},{"s":"IL","w":3117,"t":14},{"s":"IL","w":3102,"t":17},{"s":"IL","w":3088,"t":30},{"s":"IL","w":3058,"t":35},{"s":"IL","w":3018,"t":35},{"s":"IL","w":2994,"t":25},{"s":"IL","w":2975,"t":8},{"s":"IL","w":2969,"t":4},{"s":"IL","w":2959,"t":10},{"s":"IL","w":2949,"t":17},{"s":"IL","w":2940,"t":13},{"s":"IL","w":2925,"t":20},{"s":"IL","w":2900,"t":25},{"s":"IL","w":2885,"t":22},{"s":"IL","w":2878,"t":17},{"s":"IL","w":2865,"t":22},{"s":"IL","w":2845,"t":32},{"s":"IL","w":2821,"t":34},{"s":"IL","w":2722,"t":33},{"s":"IL","w":2624,"t":32},{"s":"IL","w":2500,"t":30}
],
"D":[
{"s":"M3","w":2000,"t":234},{"s":"M3","w":1989,"t":231},{"s":"M3","w":1978,"t":224},{"s":"M3","w":1966,"t":214},{"s":"M3","w":1954,"t":212},{"s":"M3","w":1943,"t":201},{"s":"M3","w":1931,"t":191},{"s":"M3","w":1921,"t":191},{"s":"M3","w":1912,"t":197},{"s":"M3","w":1900,"t":204},{"s":"M3","w":1884,"t":214},{"s":"M3","w":1872,"t":222},{"s":"M3","w":1865,"t":229},{"s":"M3","w":1857,"t":224},{"s":"M3","w":1846,"t":213},{"s":"M3","w":1841,"t":220},{"s":"M3","w":1834,"t":232},{"s":"M3","w":1822,"t":235},{"s":"M3","w":1814,"t":227},{"s":"M3","w":1803,"t":204},{"s":"M3","w":1793,"t":201},{"s":"M3","w":1783,"t":212},{"s":"M3","w":1774,"t":214},{"s":"M3","w":1764,"t":221},{"s":"M3","w":1754,"t":224},{"s":"M3","w":1744,"t":224},{"s":"M3","w":1736,"t":212},{"s":"M3","w":1725,"t":204},{"s":"M3","w":1713,"t":192},{"s":"M3","w":1701,"t":184},{"s":"M3","w":1692,"t":189},{"s":"M3","w":1684,"t":177},{"s":"M3","w":1670,"t":181},{"s":"M3","w":1659,"t":187},{"s":"M3","w":1649,"t":186},{"s":"M3","w":1641,"t":196},{"s":"M3","w":1637,"t":191},{"s":"M3","w":1632,"t":192},{"s":"M3","w":1620,"t":184},{"s":"M3","w":1609,"t":171},{"s":"M3","w":1601,"t":154},
{"s":"M2","w":2000,"t":192},{"s":"M2","w":1989,"t":189},{"s":"M2","w":1978,"t":184},{"s":"M2","w":1966,"t":171},{"s":"M2","w":1954,"t":166},{"s":"M2","w":1943,"t":154},{"s":"M2","w":1931,"t":147},{"s":"M2","w":1921,"t":146},{"s":"M2","w":1912,"t":151},{"s":"M2","w":1900,"t":159},{"s":"M2","w":1884,"t":172},{"s":"M2","w":1872,"t":180},{"s":"M2","w":1865,"t":187},{"s":"M2","w":1857,"t":182},{"s":"M2","w":1846,"t":174},{"s":"M2","w":1841,"t":182},{"s":"M2","w":1834,"t":191},{"s":"M2","w":1822,"t":192},{"s":"M2","w":1814,"t":184},{"s":"M2","w":1803,"t":162},{"s":"M2","w":1793,"t":156},{"s":"M2","w":1783,"t":166},{"s":"M2","w":1774,"t":169},{"s":"M2","w":1764,"t":177},{"s":"M2","w":1754,"t":182},{"s":"M2","w":1744,"t":179},{"s":"M2","w":1736,"t":166},{"s":"M2","w":1725,"t":144},{"s":"M2","w":1713,"t":129},{"s":"M2","w":1701,"t":121},{"s":"M2","w":1692,"t":126},{"s":"M2","w":1684,"t":116},{"s":"M2","w":1670,"t":122},{"s":"M2","w":1659,"t":129},{"s":"M2","w":1649,"t":128},{"s":"M2","w":1641,"t":136},{"s":"M2","w":1632,"t":132},{"s":"M2","w":1620,"t":124},{"s":"M2","w":1609,"t":111},{"s":"M2","w":1601,"t":97},
{"s":"M1","w":2000,"t":147},{"s":"M1","w":1989,"t":144},{"s":"M1","w":1978,"t":136},{"s":"M1","w":1966,"t":127},{"s":"M1","w":1954,"t":121},{"s":"M1","w":1943,"t":107},{"s":"M1","w":1931,"t":97},{"s":"M1","w":1921,"t":96},{"s":"M1","w":1912,"t":101},{"s":"M1","w":1900,"t":114},{"s":"M1","w":1884,"t":131},{"s":"M1","w":1872,"t":141},{"s":"M1","w":1865,"t":146},{"s":"M1","w":1857,"t":141},{"s":"M1","w":1846,"t":132},{"s":"M1","w":1841,"t":141},{"s":"M1","w":1834,"t":150},{"s":"M1","w":1822,"t":149},{"s":"M1","w":1814,"t":141},{"s":"M1","w":1803,"t":117},{"s":"M1","w":1793,"t":111},{"s":"M1","w":1783,"t":119},{"s":"M1","w":1774,"t":124},{"s":"M1","w":1764,"t":134},{"s":"M1","w":1754,"t":139},{"s":"M1","w":1744,"t":139},{"s":"M1","w":1736,"t":126},{"s":"M1","w":1725,"t":117},{"s":"M1","w":1713,"t":104},{"s":"M1","w":1705,"t":101},{"s":"M1","w":1694,"t":94},{"s":"M1","w":1684,"t":76},{"s":"M1","w":1670,"t":74},{"s":"M1","w":1659,"t":79},{"s":"M1","w":1649,"t":77},{"s":"M1","w":1641,"t":89},{"s":"M1","w":1635,"t":87},{"s":"M1","w":1632,"t":89},{"s":"M1","w":1620,"t":84},{"s":"M1","w":1609,"t":74},{"s":"M1","w":1601,"t":61},
{"s":"M0","w":2000,"t":93},{"s":"M0","w":1985,"t":91},{"s":"M0","w":1974,"t":91},{"s":"M0","w":1954,"t":86},{"s":"M0","w":1939,"t":81},{"s":"M0","w":1923,"t":77},{"s":"M0","w":1908,"t":77},{"s":"M0","w":1892,"t":84},{"s":"M0","w":1876,"t":92},{"s":"M0","w":1865,"t":97},{"s":"M0","w":1853,"t":101},{"s":"M0","w":1841,"t":96},{"s":"M0","w":1830,"t":97},{"s":"M0","w":1814,"t":94},{"s":"M0","w":1799,"t":87},{"s":"M0","w":1793,"t":84},{"s":"M0","w":1783,"t":87},{"s":"M0","w":1771,"t":89},{"s":"M0","w":1763,"t":90},{"s":"M0","w":1754,"t":89},{"s":"M0","w":1744,"t":74},{"s":"M0","w":1732,"t":47},{"s":"M0","w":1721,"t":14},{"s":"M0","w":1709,"t":11},{"s":"M0","w":1701,"t":7},{"s":"M0","w":1692,"t":16},{"s":"M0","w":1682,"t":24},{"s":"M0","w":1670,"t":37},{"s":"M0","w":1659,"t":52},{"s":"M0","w":1647,"t":50},{"s":"M0","w":1640,"t":57},{"s":"M0","w":1632,"t":57},{"s":"M0","w":1624,"t":47},{"s":"M0","w":1616,"t":36},{"s":"M0","w":1609,"t":36},{"s":"M0","w":1601,"t":32}
],
"labA":[{"lab":"M3","w":3950,"t":238},{"lab":"M2","w":3950,"t":208},{"lab":"M1","w":3950,"t":180},{"lab":"M0","w":3955,"t":151},{"lab":"PES","w":3940,"t":117},{"lab":"UiO-66-NH₂","w":3985,"t":86},{"lab":"TMC","w":3945,"t":62},{"lab":"IL","w":3935,"t":40}],
"boxA":[{"w":3500,"w2":2500,"t":228,"t2":18},{"w":2000,"w2":1600,"t":229,"t2":125},{"w":1500,"w2":760,"t":228,"t2":1}],
"boxLabA":[{"lab":"(c)","w":2991,"t":236},{"lab":"(d)","w":1827,"t":236},{"lab":"(b)","w":1119,"t":236}],
"labB":[{"lab":"M3","w":1781,"t":234},{"lab":"M2","w":1781,"t":207},{"lab":"M1","w":1781,"t":177},{"lab":"M0","w":1786,"t":134},{"lab":"PES","w":1786,"t":118},{"lab":"UiO-66-NH₂","w":1795,"t":94},{"lab":"TMC","w":1774,"t":75},{"lab":"IL","w":1771,"t":49}],
"annB":[{"lab":"1350cm⁻¹","w":1438,"t":234},{"lab":"1230cm⁻¹","w":1291,"t":226},{"lab":"1190cm⁻¹","w":1108,"t":229},{"lab":"1057cm⁻¹","w":964,"t":235},{"lab":"S=O","w":1418,"t":204},{"lab":"C-F","w":1271,"t":197},{"lab":"S=O","w":1147,"t":212},{"lab":"S-N","w":1006,"t":202},{"lab":"C=N","w":1660,"t":143},{"lab":"1640cm⁻¹","w":1559,"t":130}],
"ruleB":[{"w":1350,"t":2,"t2":246},{"w":1230,"t":2,"t2":231},{"w":1190,"t":2,"t2":246},{"w":1057,"t":2,"t2":234},{"w":1640,"t":114,"t2":136}],
"labC":[{"lab":"M3","w":3483,"t":233},{"lab":"M2","w":3483,"t":200},{"lab":"M1","w":3483,"t":167},{"lab":"M0","w":3483,"t":135},{"lab":"PES","w":3483,"t":103},{"lab":"UiO-66-NH₂","w":3495,"t":82},{"lab":"TMC","w":3483,"t":55},{"lab":"IL","w":3471,"t":40}],
"annC":[{"lab":"2970cm⁻¹","w":3063,"t":232},{"lab":"2880cm⁻¹","w":2723,"t":233},{"lab":"-CH₂","w":3007,"t":188},{"lab":"-CH₂","w":2837,"t":188}],
"ruleC":[{"w":2970,"t":0,"t2":251},{"w":2880,"t":0,"t2":251}],
"labD":[{"lab":"M3","w":1991,"t":239},{"lab":"M2","w":1991,"t":198},{"lab":"M1","w":1991,"t":154},{"lab":"M0","w":1991,"t":101}],
"annD":[{"lab":"1700cm⁻¹","w":1743,"t":230},{"lab":"-COOH","w":1732,"t":200}],
"ruleD":[{"w":1700,"t":0,"t2":253}],
"bandD":[{"w":1711,"w2":1634,"t":0,"t2":253}]
},
"concat":[
{"width":336,"height":245,
"title":{"text":"(a)","anchor":"start","frame":"group","dx":-37,"offset":-18},
"encoding":{
"x":{"field":"w","type":"quantitative","scale":{"domain":[4000,600],"nice":false,"zero":false},
"axis":{"values":[4000,3750,3500,3250,3000,2750,2500,2250,2000,1750,1500,1250,1000,750],"format":"d","labelExpr":"datum.value % 500 === 0 ? datum.label : ''","tickSize":{"condition":{"test":"datum.value % 500 === 0","value":5},"value":3},"labelFontSize":11,"labelPadding":2,"title":"Wavenumber/cm⁻¹","titleFontSize":15,"titlePadding":5,"domainWidth":1.5,"tickWidth":1.3}},
"y":{"field":"t","type":"quantitative","scale":{"domain":[0,245],"nice":false,"zero":false},"axis":{"title":"Transmission / a.u.","labels":false,"ticks":false,"domain":false,"titleFontSize":15,"titlePadding":12}}},
"layer":[
{"data":{"name":"boxA"},"mark":{"type":"rect","fill":"transparent","stroke":"#333","strokeDash":[5,3],"strokeWidth":1.3},"encoding":{"x2":{"field":"w2"},"y2":{"field":"t2"}}},
{"data":{"name":"A"},"mark":{"type":"line","strokeWidth":1.3},"encoding":{"color":{"field":"s","type":"nominal","legend":null,"scale":{"domain":["M3","M2","M1","M0","PES","UiO","TMC","IL"],"range":["#f4433c","#8e5b5b","#ff8a14","#b3840f","#b469e0","#1ec8cc","#7e4646","#d6a21c"]}}}},
{"data":{"name":"labA"},"mark":{"type":"text","align":"left","baseline":"middle","fontWeight":"bold","fontSize":10,"color":"#000"},"encoding":{"text":{"field":"lab"}}},
{"data":{"name":"boxLabA"},"mark":{"type":"text","align":"center","baseline":"middle","fontSize":14,"color":"#222"},"encoding":{"text":{"field":"lab"}}}
]},
{"width":337,"height":246,
"title":{"text":"(b)","anchor":"start","frame":"group","dx":-27,"offset":-18},
"encoding":{
"x":{"field":"w","type":"quantitative","scale":{"domain":[1800,700],"nice":false,"zero":false},
"axis":{"values":[1750,1500,1250,1000,750],"format":"d","labelExpr":"datum.value % 500 === 0 ? datum.label : ''","tickSize":{"condition":{"test":"datum.value % 500 === 0","value":5},"value":3},"labelFontSize":12,"labelPadding":2,"title":"Wavenumber/cm⁻¹","titleFontSize":15,"titlePadding":5,"domainWidth":1.5,"tickWidth":1.3}},
"y":{"field":"t","type":"quantitative","scale":{"domain":[0,246],"nice":false,"zero":false},"axis":{"title":"Transmission / a.u.","labels":false,"ticks":false,"domain":false,"titleFontSize":15,"titlePadding":12}}},
"layer":[
{"data":{"name":"ruleB"},"mark":{"type":"rule","color":"#333","strokeDash":[5,3],"strokeWidth":1.3},"encoding":{"y2":{"field":"t2"}}},
{"data":{"name":"B"},"mark":{"type":"line","strokeWidth":1.3},"encoding":{"color":{"field":"s","type":"nominal","legend":null,"scale":{"domain":["M3","M2","M1","M0","PES","UiO","TMC","IL"],"range":["#f4433c","#8e5b5b","#e6c232","#b3840f","#b469e0","#1ec8cc","#8a5555","#d6a21c"]}}}},
{"data":{"name":"labB"},"mark":{"type":"text","align":"left","baseline":"middle","fontWeight":"bold","fontSize":10,"color":"#000"},"encoding":{"text":{"field":"lab"}}},
{"data":{"name":"annB"},"mark":{"type":"text","align":"center","baseline":"middle","fontSize":12,"color":"#222"},"encoding":{"text":{"field":"lab"}}}
]},
{"width":338,"height":251,
"title":{"text":"(c)","anchor":"start","frame":"group","dx":-37,"offset":-16},
"encoding":{
"x":{"field":"w","type":"quantitative","scale":{"domain":[3500,2500],"nice":false,"zero":false},
"axis":{"values":[3500,3250,3000,2750,2500],"format":"d","labelExpr":"datum.value % 500 === 0 ? datum.label : ''","tickSize":{"condition":{"test":"datum.value % 500 === 0","value":5},"value":3},"labelFontSize":11,"labelPadding":2,"title":"Wavenumber/cm⁻¹","titleFontSize":15,"titlePadding":3,"domainWidth":1.5,"tickWidth":1.3}},
"y":{"field":"t","type":"quantitative","scale":{"domain":[0,251],"nice":false,"zero":false},"axis":{"title":"Transmission / a.u.","labels":false,"ticks":false,"domain":false,"titleFontSize":15,"titlePadding":12}}},
"layer":[
{"data":{"name":"ruleC"},"mark":{"type":"rule","color":"#333","strokeDash":[5,3],"strokeWidth":1.3},"encoding":{"y2":{"field":"t2"}}},
{"data":{"name":"C"},"mark":{"type":"line","strokeWidth":1.3},"encoding":{"color":{"field":"s","type":"nominal","legend":null,"scale":{"domain":["M3","M2","M1","M0","PES","UiO","TMC","IL"],"range":["#f4433c","#8e5b5b","#ff8a14","#b3840f","#b469e0","#1ec8cc","#7e4646","#d6a21c"]}}}},
{"data":{"name":"labC"},"mark":{"type":"text","align":"left","baseline":"middle","fontWeight":"bold","fontSize":9.5,"color":"#000"},"encoding":{"text":{"field":"lab"}}},
{"data":{"name":"annC"},"mark":{"type":"text","align":"center","baseline":"middle","fontSize":11.5,"color":"#222"},"encoding":{"text":{"field":"lab"}}}
]},
{"width":343,"height":253,
"title":{"text":"(d)","anchor":"start","frame":"group","dx":-27,"offset":-16},
"encoding":{
"x":{"field":"w","type":"quantitative","scale":{"domain":[2000,1600],"nice":false,"zero":false},
"axis":{"values":[2000,1900,1800,1700,1600],"format":"d","labelExpr":"datum.value % 200 === 0 ? datum.label : ''","tickSize":{"condition":{"test":"datum.value % 200 === 0","value":5},"value":3},"labelFontSize":11.5,"labelPadding":2,"title":"Wavenumber/cm⁻¹","titleFontSize":14.5,"titlePadding":2,"domainWidth":1.5,"tickWidth":1.3}},
"y":{"field":"t","type":"quantitative","scale":{"domain":[0,253],"nice":false,"zero":false},"axis":{"title":"Transmission / a.u.","labels":false,"ticks":false,"domain":false,"titleFontSize":15,"titlePadding":12}}},
"layer":[
{"data":{"name":"bandD"},"mark":{"type":"rect","color":"#fcdcc4","opacity":0.85},"encoding":{"x2":{"field":"w2"},"y2":{"field":"t2"}}},
{"data":{"name":"ruleD"},"mark":{"type":"rule","color":"#222","strokeDash":[6,3],"strokeWidth":1.5},"encoding":{"y2":{"field":"t2"}}},
{"data":{"name":"D"},"mark":{"type":"line","strokeWidth":1.3},"encoding":{"color":{"field":"s","type":"nominal","legend":null,"scale":{"domain":["M3","M2","M1","M0"],"range":["#f4433c","#ff8a14","#8e5b5b","#b3840f"]}}}},
{"data":{"name":"labD"},"mark":{"type":"text","align":"left","baseline":"middle","fontWeight":"bold","fontSize":9.5,"color":"#000"},"encoding":{"text":{"field":"lab"}}},
{"data":{"name":"annD"},"mark":{"type":"text","align":"center","baseline":"middle","fontSize":12,"color":"#222"},"encoding":{"text":{"field":"lab"}}}
]}
]
}
